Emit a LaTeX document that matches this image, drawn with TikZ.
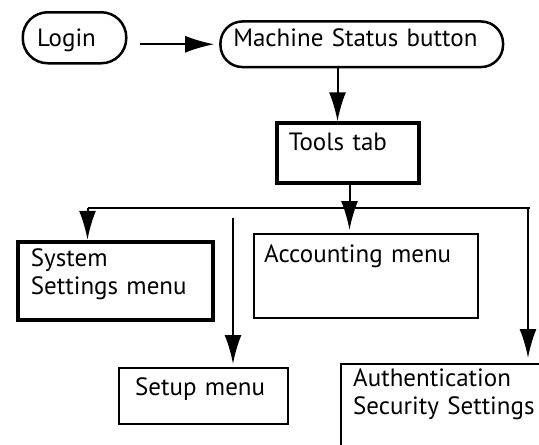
\documentclass[tikz,border=0pt]{standalone}
\usepackage{fontspec}
\setmainfont{PT Sans}
\usepackage{tikz}
\usetikzlibrary{arrows.meta}
\tikzset{
	pill/.style={draw,line width=2.5pt,rounded corners=22pt,anchor=north west,align=left,inner ysep=0pt,font=\fontsize{25}{28}\selectfont},
	box/.style={draw,line width=2.4pt,anchor=north west,align=left,inner ysep=0pt,font=\fontsize{25}{28}\selectfont},
	tbox/.style={box,line width=3.8pt},
	arr/.style={-{Latex[length=29pt,width=17pt]},line width=2pt}
}
\begin{document}
\begin{tikzpicture}[x=1pt,y=-1pt]
						\clip (0,0) rectangle (539,445);
						\node [pill,rounded corners=25pt,inner xsep=14.5pt,text width=74.5pt,text height=34pt,text depth=17pt] (login) at (21.5,11) {Login};
						\node [pill,inner xsep=12.8pt,text width=257pt,text height=24.8pt,text depth=20.8pt] (ms) at (219.2,20.2) {Machine Status button};
						\node [tbox,inner xsep=12.25pt,text width=118pt,text height=27.75pt,text depth=32.25pt] (tools) at (274.75,121.25) {Tools tab};
						\node [tbox,inner xsep=13.25pt,text width=168.5pt,text height=25.25pt,text depth=53.25pt] (sys) at (15.75,239.75) {System\\Settings menu};
						\node [box,inner xsep=10pt,text width=204pt,text height=28pt,text depth=56pt] (acct) at (253,233) {Accounting menu};
						\node [box,inner xsep=16pt,text width=137pt,text height=27pt,text depth=29pt] (setup) at (118,367) {Setup menu};
						\node [box,inner xsep=12pt,text width=236pt,text height=22pt,text depth=128pt] (auth) at (340,363) {Authentication\\Security Settings};

						\coordinate (xa) at (337.5,0);
						\coordinate (xb) at (349.5,0);
						\coordinate (busl) at (87.5,207.5);
						\coordinate (busr) at (530,207.5);
						\coordinate (rtop) at (528,207.5);
						\coordinate (stop) at (233,218);

						\draw [arr,shorten <=12pt,shorten >=5pt] (login.east |- ms.west) -- (ms.west);
						\draw [arr] (ms.south -| xa) -- (tools.north -| xa);
						\draw [arr,shorten >=3pt] (tools.south -| xb) -- (acct.north -| xb);
						\draw [line width=2pt] (busl) -- (busr);
						\draw [arr] (busl) -- (sys.north -| busl);
						\draw [arr,shorten >=3pt] (stop) -- (setup.north -| stop);
						\draw [arr,shorten >=5pt] (rtop) -- (auth.north -| rtop);
					\end{tikzpicture}
\end{document}
